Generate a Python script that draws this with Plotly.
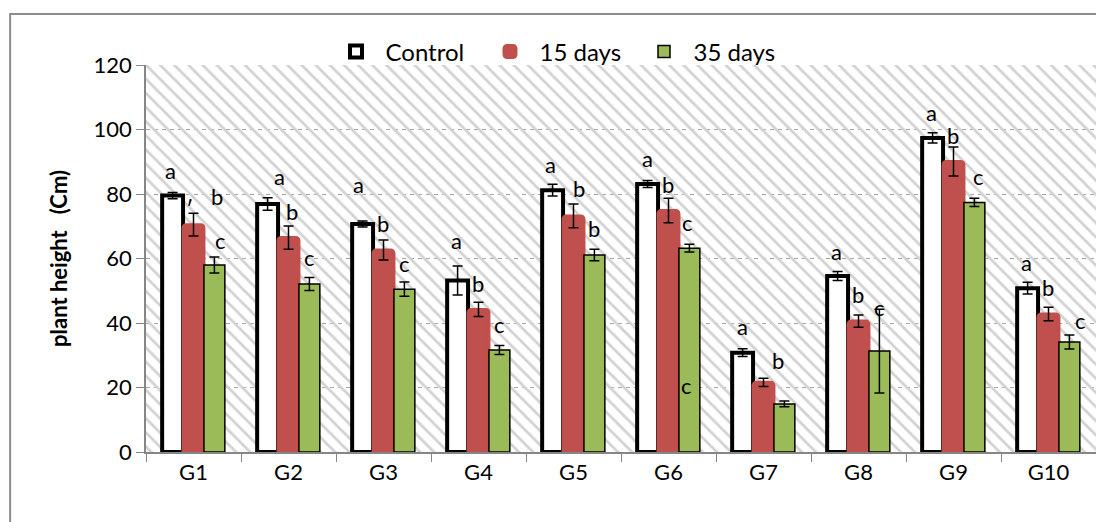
import plotly.graph_objects as go

groups = ["G1", "G2", "G3", "G4", "G5", "G6", "G7", "G8", "G9", "G10"]
control = [79.5, 76.9, 70.7, 53.2, 81.2, 83.1, 30.8, 54.6, 97.4, 50.8]
control_err = [1.0, 1.9, 0.9, 4.5, 1.8, 1.1, 1.2, 1.4, 1.6, 1.8]
days15 = [70.5, 66.5, 62.6, 44.2, 73.2, 74.9, 21.6, 40.6, 90.1, 42.8]
days15_err = [3.5, 3.6, 3.1, 2.2, 3.7, 3.8, 1.3, 1.9, 4.5, 2.1]
days35 = [58.0, 52.1, 50.5, 31.6, 61.1, 63.2, 14.9, 31.3, 77.4, 34.1]
days35_err = [2.5, 2.0, 2.2, 1.4, 1.8, 1.2, 0.9, 13.0, 1.3, 2.2]

# significance letters: group index, offset within group (category units), y value, text
lab_group = [0, 0, 0, 0, 1, 1, 1, 2, 2, 2, 3, 3, 3, 4, 4, 4, 5, 5, 5, 5,
             6, 6, 7, 7, 7, 8, 8, 8, 9, 9, 9]
lab_dx = [-0.237, 0.247, 0.279, -0.037, -0.100, 0.034, 0.216, -0.258, -0.008, 0.226,
          -0.229, -0.005, 0.216, -0.240, 0.058, 0.216, -0.226, -0.005, 0.205, 0.192,
          -0.226, 0.153, -0.229, -0.005, 0.216, -0.229, -0.008, 0.268, -0.229, -0.005, 0.339]
lab_y = [87.4, 79.1, 65.7, 75.7, 85.3, 74.5, 60.2, 82.8, 70.7, 58.6,
         65.7, 52.4, 39.4, 89.3, 81.6, 69.2, 90.9, 82.8, 71.1, 20.5,
         38.8, 28.5, 62.3, 48.7, 44.7, 105.2, 98.0, 85.3, 58.7, 50.9, 40.9]
lab_text = ["a", "b", "c", "ʹ", "a", "b", "c", "a", "b", "c",
            "a", "b", "c", "a", "b", "b", "a", "b", "c", "c",
            "a", "b", "a", "b", "c", "a", "b", "c", "a", "b", "c"]

y_ticks = [0, 20, 40, 60, 80, 100, 120]

FONT = "Lato"
RED = "#C0504D"
GREEN = "#9BBB59"

fig = go.Figure()

# hatched plot-area background (decoration)
fig.add_trace(go.Bar(
    x=[0.5], y=[y_ticks[-1]], width=[1], xaxis="x", yaxis="y",
    marker=dict(color="#d2d2d2", line=dict(width=0),
                pattern=dict(shape="\\", size=10, solidity=0.28, fillmode="replace")),
    showlegend=False, hoverinfo="skip"))

err_style = dict(type="data", color="black", thickness=1.5, width=5)

fig.add_trace(go.Bar(
    name="Control", x=groups, y=control, xaxis="x2", yaxis="y2",
    error_y=dict(array=control_err, **err_style),
    marker=dict(color="white", line=dict(color="black", width=4))))
fig.add_trace(go.Bar(
    name="15 days", x=groups, y=days15, xaxis="x2", yaxis="y2",
    error_y=dict(array=days15_err, **err_style),
    marker=dict(color=RED, line=dict(color=RED, width=3), cornerradius=3)))
fig.add_trace(go.Bar(
    name="35 days", x=groups, y=days35, xaxis="x2", yaxis="y2",
    error_y=dict(array=days35_err, **err_style),
    marker=dict(color=GREEN, line=dict(color="black", width=1.5))))

annotations = []
for g, dx, yv, t in zip(lab_group, lab_dx, lab_y, lab_text):
    annotations.append(dict(x=g + dx, y=yv, xref="x2", yref="y2", text=t,
                            showarrow=False, font=dict(size=22, color="black", family=FONT),
                            xanchor="center", yanchor="middle"))

axis_gray = "#868686"

fig.update_layout(
    width=1096, height=514,
    margin=dict(l=138, r=8, t=57, b=70, autoexpand=False),
    paper_bgcolor="white", plot_bgcolor="white",
    font=dict(family=FONT, color="black"),
    barmode="group", bargap=0.34, bargroupgap=0.0,
    annotations=annotations,
    xaxis=dict(range=[0, 1], visible=False, fixedrange=True),
    yaxis=dict(range=[0, 120], tickvals=y_ticks, showgrid=True, gridcolor="#a6a6a6",
               griddash="4px,4px", gridwidth=1, zeroline=False,
               showline=True, linecolor=axis_gray, linewidth=1.5,
               ticks="outside", ticklen=8, tickcolor=axis_gray,
               tickfont=dict(size=22, family=FONT),
               title=dict(text="plant height   (Cm)", standoff=20,
                          font=dict(size=22, family=FONT, weight="bold"))),
    xaxis2=dict(overlaying="x", anchor="y", side="bottom", type="category",
                range=[-0.5, 9.5], showline=True, linecolor=axis_gray, linewidth=1.5,
                ticks="outside", ticklen=8, tickcolor=axis_gray, tickson="boundaries",
                tickfont=dict(size=22, family=FONT), showgrid=False),
    yaxis2=dict(overlaying="y", anchor="x", range=[0, 120], visible=False),
    legend=dict(orientation="h", x=0.19, xanchor="left", y=1.092, yanchor="top",
                font=dict(size=24, family=FONT), bgcolor="rgba(0,0,0,0)",
                itemwidth=49, entrywidth=90, entrywidthmode="pixels"),
    shapes=[dict(type="rect", xref="paper", yref="paper",
                 x0=-0.143, x1=1.05, y0=-0.3, y1=1.132,
                 line=dict(color="#8c8c8c", width=2), fillcolor="rgba(0,0,0,0)",
                 layer="below")],
)

fig.write_html("out.html")
